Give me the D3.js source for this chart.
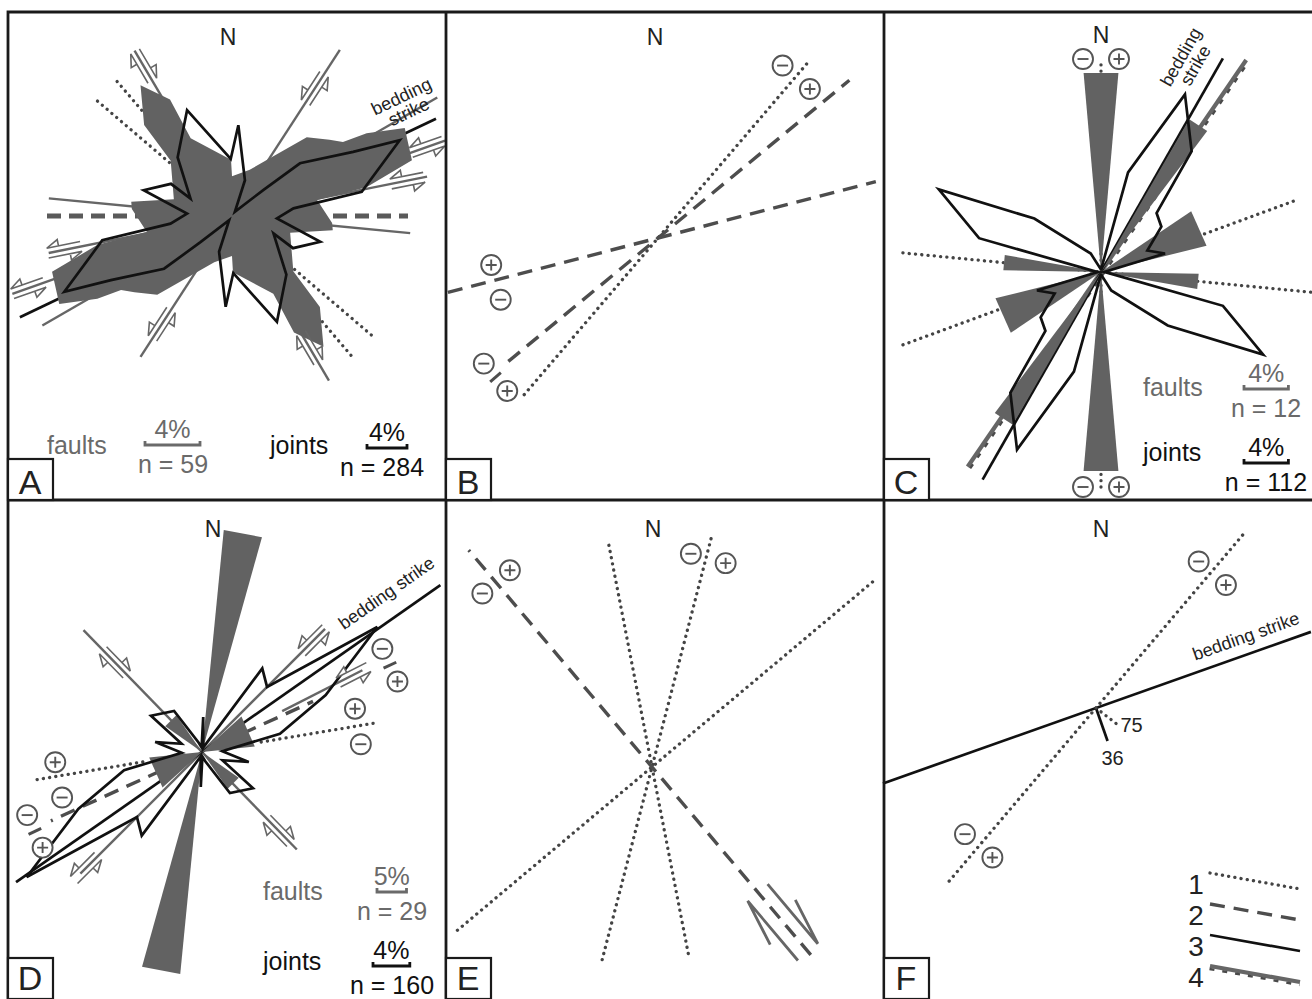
<!DOCTYPE html>
<html>
<head>
<meta charset="utf-8">
<script src="https://cdn.jsdelivr.net/npm/d3@7"></script>
<style>
  body { margin: 0; background: #fff; }
  svg text { font-family: "Liberation Sans", Arial, sans-serif; }
</style>
</head>
<body>
<div id="chart"></div>
<script>
// ---------------------------------------------------------------
// DATA: azimuths in degrees (clockwise from N), rose values in %,
// line reach as a fraction of the reference radius.
// Roses are bidirectional: only 0-180 is listed, 180-360 mirrors it.
// ---------------------------------------------------------------

// panel A - rose vertices [azimuth, percent]
var roseA_faults = [[0,2.9],[21,3.6],[43.5,7.9],[52,9.0],[56.3,9.7],[58.4,11.5],[63,14.1],[72.8,13.7],
  [77.9,10.0],[79.3,6.3],[94,7.3],[98,7.4],[106,4.4],[132,6.0],[136,9.2],[145,11.6],[152,9.6],[152,6.4],[179,4.1]];
var roseA_joints = [[4,9.1],[19.9,3.8],[35,0.5],[50.3,4.1],[52.2,8.6],[62.1,13.7],[65.7,18.4],[75.4,14.3],
  [79.4,13.2],[82.9,6.2],[93,4.5],[106.3,9.2],[117.8,6.9],[112.8,4.5],[137.2,8.0],[157,11.5],[178.7,5.7]];
// lines [azimuth, reach forward, reach backward, hidden inner part]
var linesA_dotted = [[310.5,0.90,0.92,0.38],[319.5,0.895,0.935,0.38]];
var linesA_dashed = [[90,0.88,0.925,0]];
var linesA_faults = [[33,0.99,0.84,0.26],[329.5,0.96,0.955,0.3],[60,1.185,1.095,0.5],
  [70.5,1.13,1.165,0.5],[78.6,0.995,0.935,0.4],[95.5,0.895,0.92,0.3]];
var linesA_bedding = [[64.5,1.13,1.175,0.92]];
// slip arrows [fault azimuth, distance, sense]
var arrowsA = [[33,0.76,1],[213,0.645,1],[329.5,0.87,-1],[149.5,0.765,-1],
  [70.5,1.035,1],[250.5,1.08,1],[78.6,0.895,1],[258.6,0.855,1]];
// legend [label, scale %, n]
var legendA = [["faults",4,59],["joints",4,284]];

// panel B
var linesB_dotted = [[40.5,1.175,1.03,0]];
var linesB_dashed = [[50.5,1.24,0.97,0],[75.5,1.125,1.085,0]];
// sign pairs [azimuth, distance, side of minus, tick]
var signsB = [[40.7,1.06,-1,0],[254.7,0.84,-1,0],[229.4,1.07,1,1]];

// panel C
var roseC_joints = [[5,0.3],[15.2,9.3],[25.3,17.7],[36.9,13.6],[43.3,7.3],[53.1,6.8],[65.1,4.6],[73.9,6.0],
  [88,0.3],[105.5,11.4],[117,16.4],[128.7,7.7],[151,1.9],[170,0.3]];
// petals [from azimuth, to azimuth, percent]
var wedgesC_faults = [[-5,5,18],[30,37,15.9],[56,76,9.8],[91,100,8.8]];
var linesC_dotted = [[0,1.065,1.075,0],[69.8,1.04,1.055,0],[95.5,1.055,0.995,0]];
var linesC_bedding = [[29.7,1.23,1.195,0]];
var linesC_type4 = [[34.4,1.285,1.18,0]];
var signsC = [[0,1.065,-1,0],[180,1.075,1,0]];
var legendC = [["faults",4,12],["joints",4,112]];

// panel D
var roseD_joints = [[2,3.8],[15,0.5],[35.8,11.2],[45,10.0],[54.5,23.4],[65.3,14.8],[76.8,8.7],[88,2.2],
  [102,5.2],[112,2.4],[125.4,6.8],[145.8,5.4],[160,1.1],[175,0.5]];
var wedgesD_faults = [[5.6,15.6,37.8],[48,84,9.0],[125,145,7.6]];
var linesD_dotted = [[80.5,0.88,0.85,0.3]];
var linesD_dashed = [[65.5,0.61,0.83,0.22]];
var linesD_faults = [[315.8,0.85,0.68,0],[45,0.87,0.86,0],[63,0.9,0,0.45]];
var linesD_bedding = [[55,1.455,1.135,0]];
var arrowsD = [[315.8,0.625,-1],[135.8,0.55,-1],[45,0.79,1],[225,0.82,1],[63,0.85,1]];
var signsD = [[65.2,1.035,-1,1],[244.6,0.925,1,1],[80.7,0.79,1,0],[259,0.73,-1,0]];
var legendD = [["faults",5,29],["joints",4,160]];

// panel E
var linesE_dashed = [[319.8,1.42,1.23,0]];
var linesE_dotted = [[349,1.145,0.95,0],[14.5,1.205,0.995,0],[50,1.455,1.27,0]];
var signsE = [[319.9,1.21,-1,0],[15.1,1.08,-1,0]];
var arrowsE = [[139.9,1.015,-1]];

// panel F
var linesF_dotted = [[40.3,1.145,1.135,0]];
var linesF_bedding = [[70.5,1.14,1.13,0]];
var dipF = [[160.7,0.175,"36"]];
var dipF_dotted = [[127.6,0.135,"75"]];
var signsF = [[40.8,0.89,-1,0],[220.4,0.905,1,0]];
var legendKeys = ["1","2","3","4"];
var legendKeyStyles = ["dotted","dashed","bedding","type4"];

// ---------------------------------------------------------------
var W = 1312, H = 999;
var ROSE_GRAY = "#626262", TEXT_GRAY = "#6a6a6a";

var svg = d3.select("#chart").append("svg").attr("width", W).attr("height", H);
svg.append("rect").attr("width", W).attr("height", H).attr("fill", "#fff");

var rad = d3.scaleLinear().domain([0, 360]).range([0, 2 * Math.PI]);
var reach = d3.scaleLinear().domain([0, 1]).range([0, 200]);

function pct(pxPerPct) { return d3.scaleLinear().domain([0, 1]).range([0, pxPerPct]); }
var scaleA_f = pct(13.75), scaleA_j = pct(10);
var scaleC_f = pct(11.1), scaleC_j = pct(11.1);
var scaleD_f = pct(5.9), scaleD_j = pct(9.2);

var lineStyles = {
  dotted:      {stroke: "#444", "stroke-width": 3.3, "stroke-dasharray": "0.1 6.2", "stroke-linecap": "round"},
  dashed:      {stroke: "#4d4d4d", "stroke-width": 3.4, "stroke-dasharray": "15 9"},
  dashedThick: {stroke: "#5a5a5a", "stroke-width": 4.8, "stroke-dasharray": "14 8"},
  fault:       {stroke: "#666", "stroke-width": 2.4},
  bedding:     {stroke: "#111", "stroke-width": 2.7},
  type4:       {stroke: "#666", "stroke-width": 4.2}
};

function styled(sel, st) {
  Object.keys(st).forEach(function (k) { sel.attr(k, st[k]); });
  return sel;
}

function polar(az, r) {
  var a = rad(az);
  return [r * Math.sin(a), -r * Math.cos(a)];
}

function mirror(list) {
  return list.concat(list.map(function (d) { return [d[0] + 180, d[1]]; }));
}

function panel(cx, cy) {
  return svg.append("g").attr("transform", "translate(" + cx + "," + cy + ")");
}

// comb of ticks along a type-4 line
function comb(g, p0, p1) {
  var dx = p1[0] - p0[0], dy = p1[1] - p0[1], len = Math.sqrt(dx * dx + dy * dy);
  var nx = -dy / len * 3, ny = dx / len * 3;
  g.append("path")
    .attr("d", d3.line()([[p0[0] + nx, p0[1] + ny], [p1[0] + nx, p1[1] + ny]]))
    .attr("fill", "none").attr("stroke", "#4a4a4a")
    .attr("stroke-width", 2.4).attr("stroke-dasharray", "5 8");
}

function drawLines(g, list, st) {
  list.forEach(function (d) {
    var az = d[0], fwd = reach(d[1]), back = reach(d[2]), inner = reach(d[3]);
    var segs = inner > 0
      ? [[[az, inner], [az, fwd]], [[az + 180, inner], [az + 180, back]]]
      : [[[az + 180, back], [az, fwd]]];
    segs.forEach(function (s) {
      if (inner > 0 && s[1][1] <= s[0][1]) return;
      var pts = s.map(function (p) { return polar(p[0], p[1]); });
      styled(g.append("path").attr("d", d3.line()(pts)).attr("fill", "none"), lineStyles[st]);
      if (st === "type4") comb(g, pts[0], pts[1]);
    });
  });
}

function roseLine(scale) {
  return d3.lineRadial()
    .angle(function (d) { return rad(d[0]); })
    .radius(function (d) { return scale(d[1]); })
    .curve(d3.curveLinearClosed);
}

function drawRoseFill(g, verts, scale) {
  g.append("path").attr("d", roseLine(scale)(mirror(verts)))
    .attr("fill", ROSE_GRAY).attr("stroke", "none");
}

function drawRoseOutline(g, verts, scale) {
  g.append("path").attr("d", roseLine(scale)(mirror(verts)))
    .attr("fill", "none").attr("stroke", "#111")
    .attr("stroke-width", 2.7).attr("stroke-linejoin", "miter");
}

function drawWedges(g, list, scale) {
  var all = list.concat(list.map(function (w) { return [w[0] + 180, w[1] + 180, w[2]]; }));
  all.forEach(function (w) {
    g.append("path")
      .attr("d", roseLine(scale)([[w[0], 0], [w[0], w[2]], [w[1], w[2]]]))
      .attr("fill", ROSE_GRAY);
  });
}

function drawArrows(g, list, o) {
  list.forEach(function (d) {
    var a = rad(d[0]), u = [Math.sin(a), -Math.cos(a)], n = [Math.cos(a), Math.sin(a)];
    var c = [u[0] * reach(d[1]), u[1] * reach(d[1])];
    [-1, 1].forEach(function (side) {
      var dir = side * d[2];
      function at(t, s) {
        return [c[0] + n[0] * side * (o.off + s) + u[0] * dir * t,
                c[1] + n[1] * side * (o.off + s) + u[1] * dir * t];
      }
      var pts = [at(-o.len / 2, 0), at(o.len / 2, 0), at(o.len / 2 - o.head, o.barb)];
      if (o.closed) pts.push(at(o.len / 2 - o.head, 0));
      g.append("path").attr("d", d3.line()(pts))
        .attr("fill", o.closed ? "#fff" : "none")
        .attr("stroke", "#666").attr("stroke-width", o.width)
        .attr("stroke-linejoin", "miter");
    });
  });
}

function drawSigns(g, list) {
  list.forEach(function (d) {
    var a = rad(d[0]), u = [Math.sin(a), -Math.cos(a)], n = [Math.cos(a), Math.sin(a)];
    var c = [u[0] * reach(d[1]), u[1] * reach(d[1])];
    if (d[3]) {
      g.append("path")
        .attr("d", d3.line()([[c[0] - u[0] * 7, c[1] - u[1] * 7], [c[0] + u[0] * 7, c[1] + u[1] * 7]]))
        .attr("stroke", "#4d4d4d").attr("stroke-width", 3);
    }
    [[d[2], "-"], [-d[2], "+"]].forEach(function (s) {
      var p = [c[0] + n[0] * s[0] * 18, c[1] + n[1] * s[0] * 18];
      var sg = g.append("g").attr("transform", "translate(" + p[0] + "," + p[1] + ")");
      sg.append("circle").attr("r", 10).attr("fill", "#fff")
        .attr("stroke", "#555").attr("stroke-width", 1.9);
      sg.append("path").attr("d", s[1] === "-" ? "M-5.5,0H5.5" : "M-5.5,0H5.5M0,-5.5V5.5")
        .attr("stroke", "#555").attr("stroke-width", 1.9);
    });
  });
}

function drawDips(g, list, st, dx, dy, anchor) {
  list.forEach(function (d) {
    var e = polar(d[0], reach(d[1]));
    styled(g.append("path").attr("d", d3.line()([[0, 0], e])).attr("fill", "none"), lineStyles[st]);
    g.append("text").attr("x", e[0] + dx).attr("y", e[1] + dy)
      .attr("text-anchor", anchor).attr("font-size", 20).attr("fill", "#222").text(d[2]);
  });
}

function drawLegend(items, scales, pos) {
  items.forEach(function (d, i) {
    var p = pos[i], col = i === 0 ? TEXT_GRAY : "#111";
    var len = scales[i](d[1]);
    svg.append("text").attr("x", p.lx).attr("y", p.ly).attr("font-size", 25)
      .attr("fill", col).text(d[0]);
    svg.append("path")
      .attr("d", "M" + p.bx + "," + (p.by - 4) + "V" + p.by + "H" + (p.bx + len) + "V" + (p.by - 4))
      .attr("fill", "none").attr("stroke", col).attr("stroke-width", 2.8);
    svg.append("text").attr("x", p.bx + len / 2).attr("y", p.by - 7)
      .attr("text-anchor", "middle").attr("font-size", 25).attr("fill", col).text(d[1] + "%");
    svg.append("text").attr("x", p.nx).attr("y", p.by + 28)
      .attr("text-anchor", "middle").attr("font-size", 25).attr("fill", col).text("n = " + d[2]);
  });
}

function bendLabel(lines, x, y, angle, lh) {
  var t = svg.append("g").attr("transform", "translate(" + x + "," + y + ") rotate(" + angle + ")");
  lines.forEach(function (s, i) {
    t.append("text").attr("x", 0).attr("y", i * lh).attr("text-anchor", "middle")
      .attr("font-size", 18).attr("fill", "#222").text(s);
  });
}

// ---------------- panel A ----------------
var gA = panel(232, 216);
drawLines(gA, linesA_dotted, "dotted");
drawLines(gA, linesA_dashed, "dashedThick");
drawLines(gA, linesA_faults, "fault");
drawLines(gA, linesA_bedding, "bedding");
drawRoseFill(gA, roseA_faults, scaleA_f);
drawRoseOutline(gA, roseA_joints, scaleA_j);
drawArrows(gA, arrowsA, {len: 34, off: 5, head: 12, barb: 6.5, closed: true, width: 1.6});
drawLegend(legendA, [scaleA_f, scaleA_j], [
  {lx: 47, ly: 454, bx: 145, by: 445, nx: 173},
  {lx: 270, ly: 454, bx: 367, by: 448, nx: 382}
]);
bendLabel(["bedding", "strike"], 404, 102, -25.5, 17);

// ---------------- panel B ----------------
var gB = panel(658, 238);
drawLines(gB, linesB_dotted, "dotted");
drawLines(gB, linesB_dashed, "dashed");
drawSigns(gB, signsB);

// ---------------- panel C ----------------
var gC = panel(1101, 272);
drawLines(gC, linesC_dotted, "dotted");
drawLines(gC, linesC_type4, "type4");
drawLines(gC, linesC_bedding, "bedding");
drawWedges(gC, wedgesC_faults, scaleC_f);
drawRoseOutline(gC, roseC_joints, scaleC_j);
drawSigns(gC, signsC);
drawLegend(legendC, [scaleC_f, scaleC_j], [
  {lx: 1143, ly: 396, bx: 1244, by: 389, nx: 1266},
  {lx: 1143, ly: 461, bx: 1244, by: 463, nx: 1266}
]);
bendLabel(["bedding", "strike"], 1186, 60, -60.3, 17);

// ---------------- panel D ----------------
var gD = panel(202, 752);
drawLines(gD, linesD_dotted, "dotted");
drawLines(gD, linesD_dashed, "dashed");
drawLines(gD, linesD_faults, "fault");
drawLines(gD, linesD_bedding, "bedding");
drawWedges(gD, wedgesD_faults, scaleD_f);
drawRoseOutline(gD, roseD_joints, scaleD_j);
drawArrows(gD, arrowsD, {len: 34, off: 5, head: 12, barb: 6.5, closed: true, width: 1.6});
drawSigns(gD, signsD);
drawLegend(legendD, [scaleD_f, scaleD_j], [
  {lx: 263, ly: 900, bx: 377, by: 892, nx: 392},
  {lx: 263, ly: 970, bx: 373, by: 966, nx: 392}
]);
bendLabel(["bedding strike"], 390, 598, -35, 17);

// ---------------- panel E ----------------
var gE = panel(652, 767);
drawLines(gE, linesE_dotted, "dotted");
drawLines(gE, linesE_dashed, "dashed");
drawArrows(gE, arrowsE, {len: 78, off: 13, head: 48, barb: 11, closed: false, width: 2.8});
drawSigns(gE, signsE);

// ---------------- panel F ----------------
var gF = panel(1096, 708);
drawLines(gF, linesF_dotted, "dotted");
drawLines(gF, linesF_bedding, "bedding");
drawDips(gF, dipF, "bedding", 5, 24, "middle");
drawDips(gF, dipF_dotted, "dotted", 3, 8, "start");
drawSigns(gF, signsF);
bendLabel(["bedding strike"], 1248, 642, -19.6, 17);

// legend of line types
legendKeys.forEach(function (k, i) {
  var y = 873 + i * 31;
  svg.append("text").attr("x", 1196).attr("y", y + 21).attr("text-anchor", "middle")
    .attr("font-size", 28).attr("fill", "#222").text(k);
  var st = legendKeyStyles[i];
  var p0 = [1210, y], p1 = [1300, y + 16];
  styled(svg.append("path").attr("d", d3.line()([p0, p1])).attr("fill", "none"), lineStyles[st]);
  if (st === "type4") comb(svg, p0, p1);
});

// ---------------- N labels ----------------
[[228, 45], [655, 45], [1101, 43], [213, 537], [653, 537], [1101, 537]].forEach(function (p) {
  svg.append("text").attr("x", p[0]).attr("y", p[1]).attr("text-anchor", "middle")
    .attr("font-size", 23).attr("fill", "#222").text("N");
});

// ---------------- frames ----------------
var frame = svg.append("g").attr("fill", "none").attr("stroke", "#1a1a1a");
frame.append("path").attr("stroke-width", 2.8)
  .attr("d", "M8,999V12H1312M446,12V999M884,12V999M8,500H1312");
[["A", 8, 500], ["B", 446, 500], ["C", 884, 500], ["D", 8, 999], ["E", 446, 999], ["F", 884, 999]]
  .forEach(function (d) {
    frame.append("rect").attr("x", d[1]).attr("y", d[2] - 41).attr("width", 45).attr("height", 41)
      .attr("fill", "#fff").attr("stroke-width", 2.2);
    svg.append("text").attr("x", d[1] + 22).attr("y", d[2] - (d[2] > 990 ? 9 : 6))
      .attr("text-anchor", "middle").attr("font-size", 34).attr("fill", "#222").text(d[0]);
  });
</script>
</body>
</html>
